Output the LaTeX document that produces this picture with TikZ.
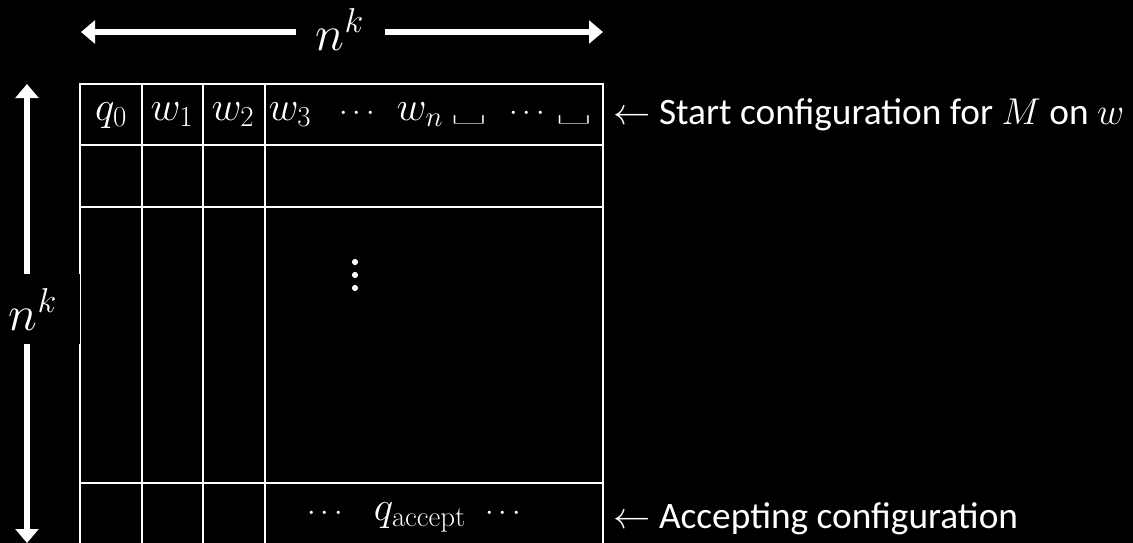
\RequirePackage{fix-cm}
\documentclass[tikz,border=0pt]{standalone}
\usepackage[no-math]{fontspec}
\setmainfont{Carlito}
\newfontfamily\lmrfont{Latin Modern Roman}
\usetikzlibrary{arrows.meta}
\newcommand{\blanksym}{\scalebox{1.6}[0.6]{\lmrfont\bfseries\fontsize{30}{34}\selectfont\char"2423}}
\begin{document}
\begin{tikzpicture}[x=0.75pt,y=-0.75pt,
  grid/.style={white,line width=1.5pt},
  dim/.style={white,line width=3.9pt,{Triangle[width=17pt,length=10.5pt]}-{Triangle[width=17pt,length=10.5pt]}},
  cell/.style={text=white,inner sep=0pt,anchor=base,font=\fontsize{31}{36}\selectfont},
  dots/.style={text=white,inner sep=0pt,anchor=base,font=\fontsize{23}{27}\selectfont},
  dimlabel/.style={text=white,fill=black,inner sep=0pt,anchor=base,font=\fontsize{37}{44}\selectfont},
  note/.style={text=white,inner sep=0pt,anchor=base west,font=\fontsize{28}{33}\selectfont}]
\fill[black] (0,0) rectangle (1133,543);
\useasboundingbox (0,0) rectangle (1133,543);

% tableau of configurations
\draw[grid] (80,84) rectangle (603,546);
\foreach \yy in {145,207,483} \draw[grid] (80,\yy) -- (603,\yy);
\foreach \xx in {142,203,265} \draw[grid] (\xx,84) -- (\xx,546);

% first row: start configuration
\node[cell] (q0) at (111,120) {$q_0$};
\node[cell] (w1) at (172,120) {$w_1$};
\node[cell] (w2) at (233,120) {$w_2$};
\node[cell] (w3) at (290,120) {$w_3$};
\node[dots] (d1) at (357,120) {$\cdots$};
\node[cell] (wn) at (420,120) {$w_n$};
\node[cell] (b1) at (469,121) {\blanksym};
\node[dots] (d2) at (527,120) {$\cdots$};
\node[cell] (b2) at (574,121) {\blanksym};

% vertical ellipsis in the middle block
\foreach \yy in {262,275,288} \fill[white] (355,\yy) circle[radius=2.3pt];

% last row: accepting configuration
\node[dots] (d3) at (325,520) {$\cdots$};
\node[cell] (qa) at (420,520) {$q_{\mathrm{accept}}$};
\node[dots] (d4) at (503,520) {$\cdots$};

% width and height dimension arrows
\coordinate (hl) at (81,32);
\coordinate (hr) at (603,32);
\draw[dim] (hl) -- (hr);
\node[dimlabel,minimum width=89pt*0.75] (wlabel) at (340,50) {$n^k$};

\coordinate (vt) at (27,84);
\coordinate (vb) at (27,543);
\draw[dim] (vt) -- (vb);
\node[dimlabel,minimum width=94pt*0.75,minimum height=70pt*0.75] (hlabel) at (33,330) {$n^k$};

% row annotations
\node[note] (start) at (613,124) {$\leftarrow$ Start configuration for $M$ on $w$};
\node[note] (accept) at (613,528) {$\leftarrow$ Accepting configuration};
\end{tikzpicture}
\end{document}
